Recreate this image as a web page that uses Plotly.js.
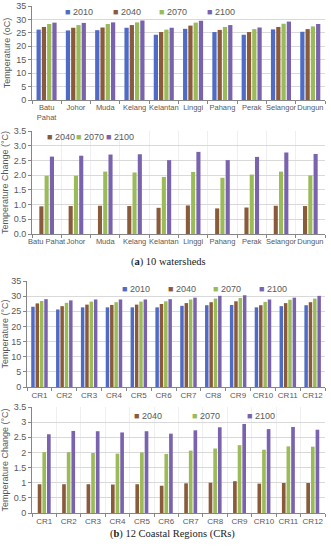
<!DOCTYPE html>
<html><head><meta charset="utf-8">
<script src="https://cdn.plot.ly/plotly-3.0.1.min.js"></script>
<style>html,body{margin:0;padding:0;background:#fff}#chart{width:331px;height:550px}</style>
</head><body><div id="chart"></div><script>
// ---- data ----
const watersheds = ["Batu Pahat","Johor","Muda","Kelang","Kelantan","Linggi","Pahang","Perak","Selangor","Dungun"];
const wsTemp2010 = [26.2,25.9,26.0,26.9,24.3,26.5,25.3,24.3,26.3,25.4];
const wsTemp2040 = [27.2,26.9,27.0,27.9,25.3,27.7,26.1,25.3,27.2,26.4];
const wsTemp2070 = [28.3,27.9,28.3,28.9,26.2,28.8,27.2,26.4,28.4,27.4];
const wsTemp2100 = [28.8,28.7,28.9,29.6,26.9,29.5,27.9,27.0,29.2,28.3];
const wsChg2040 = [0.94,0.95,0.96,0.95,0.89,0.97,0.87,0.90,0.96,0.95];
const wsChg2070 = [1.98,1.98,2.12,2.09,1.94,2.11,1.91,2.02,2.12,1.99];
const wsChg2100 = [2.63,2.66,2.70,2.71,2.51,2.79,2.51,2.62,2.77,2.72];
const coastal = ["CR1","CR2","CR3","CR4","CR5","CR6","CR7","CR8","CR9","CR10","CR11","CR12"];
const crTemp2010 = [26.5,25.6,26.3,26.3,26.3,26.3,26.8,27.0,27.1,26.3,26.7,27.0];
const crTemp2040 = [27.6,26.7,27.2,27.1,27.2,27.4,27.7,28.0,28.3,27.0,27.7,28.0];
const crTemp2070 = [28.4,27.8,28.2,28.0,28.2,28.3,28.9,29.2,29.4,28.1,28.8,29.2];
const crTemp2100 = [29.0,28.6,28.9,28.9,28.9,29.0,29.5,30.1,30.3,28.9,29.5,30.1];
const crChg2040 = [0.95,0.95,0.95,0.94,0.95,0.90,0.98,1.00,1.05,0.97,0.99,0.99];
const crChg2070 = [2.01,2.01,1.98,1.96,2.00,1.95,2.06,2.13,2.24,2.09,2.20,2.19];
const crChg2100 = [2.60,2.71,2.70,2.66,2.70,2.62,2.73,2.83,2.94,2.77,2.84,2.75];
const yearNames = ["2010","2040","2070","2100"];
const yearColors = ["#4F6BC6","#8A5B3B","#9BBB59","#7A63AE"];

// ---- build ----
const FONT = "Liberation Sans, Arial, sans-serif";
const GRAY = "#595959";
function bars(x, y, yi, xa, ya, width, offset) {
  return {type:"bar", x:x, y:y, name:yearNames[yi], xaxis:xa, yaxis:ya, showlegend:false,
    marker:{color:yearColors[yi], line:{width:0}}, width:width, offset:offset, hoverinfo:"x+y"};
}
const traces = [];
[wsTemp2010,wsTemp2040,wsTemp2070,wsTemp2100].forEach((s,i)=>traces.push(bars(watersheds,s,i,"x","y",0.145,-0.345+i*0.18)));
[wsChg2040,wsChg2070,wsChg2100].forEach((s,i)=>traces.push(bars(watersheds,s,i+1,"x2","y2",0.14,-0.25+i*0.18)));
[crTemp2010,crTemp2040,crTemp2070,crTemp2100].forEach((s,i)=>traces.push(bars(coastal,s,i,"x3","y3",0.14,-0.33+i*0.175)));
[crChg2040,crChg2070,crChg2100].forEach((s,i)=>traces.push(bars(coastal,s,i+1,"x4","y4",0.15,-0.265+i*0.19)));

const H = 550, W = 331;
const py = (top, bot) => [1 - bot/H, 1 - top/H];
const px = (l, r) => [l/W, r/W];
function xax(dom, anchor, fs, extra) {
  return Object.assign({domain:dom, anchor:anchor, type:"category", showline:true, linecolor:"#868686", linewidth:1,
    ticks:"outside", ticklen:3, tickcolor:"#868686", tickson:"boundaries", showgrid:false, tickangle:0,
    tickfont:{family:FONT, size:fs, color:GRAY}, fixedrange:true}, extra||{});
}
function yax(dom, anchor, range, dtick, fmt, title, extra) {
  return Object.assign({domain:dom, anchor:anchor, range:range, dtick:dtick, tickformat:fmt, showline:true, linecolor:"#868686",
    linewidth:1, ticks:"outside", ticklen:3, tickcolor:"#868686", showgrid:true, gridcolor:"#D9D9D9", gridwidth:1,
    zeroline:false, tickfont:{family:FONT, size:9, color:GRAY},
    title:{text:title, font:{family:FONT, size:9, color:GRAY}, standoff:4}, fixedrange:true}, extra||{});
}
// legend entries (as annotations: small square + year)
const legendSpec = [
  {ya:1-12/H,  years:[0,1,2,3], xs:[63,111,157,205]},
  {ya:1-137/H, years:[1,2,3],   xs:[45,74,104]},
  {ya:1-289/H, years:[0,1,2,3], xs:[120,166,211,257]},
  {ya:1-416/H, years:[1,2,3],   xs:[132,190,245]}
];
const annotations = [];
legendSpec.forEach(L => L.years.forEach((yi,k) => annotations.push({
  text:'<span style="color:'+yearColors[yi]+'">■</span> '+yearNames[yi], xref:"paper", yref:"paper",
  x:L.xs[k]/W, y:L.ya, xanchor:"left", yanchor:"middle", showarrow:false,
  font:{family:FONT, size:9, color:GRAY}
})));
annotations.push(
  {text:"(<b>a</b>) 10 watersheds", xref:"paper", yref:"paper", x:168/W, y:1-262/H, showarrow:false,
    font:{family:"Liberation Serif, Times New Roman, serif", size:10.5, color:"#222"}},
  {text:"(<b>b</b>) 12 Coastal Regions (CRs)", xref:"paper", yref:"paper", x:172/W, y:1-542/H, showarrow:false,
    font:{family:"Liberation Serif, Times New Roman, serif", size:10.5, color:"#222"}}
);
const layout = {
  width:W, height:H, margin:{l:0,r:0,t:0,b:0}, paper_bgcolor:"#fff", plot_bgcolor:"#fff",
  barmode:"overlay", showlegend:false, font:{family:FONT},
  xaxis: xax(px(32,325), "y", 7.5, {tickvals:watersheds, ticktext:watersheds.map(s=>s.replace(" ","<br>"))}),
  yaxis: yax(py(6,100), "x", [0,35], 5, "d", "Temperature (oC)"),
  xaxis2: xax(px(32,325), "y2", 7.5, {gridcolor:"#EFEFEF", showgrid:true}),
  yaxis2: yax(py(131,234), "x2", [0,3.5], 0.5, ".1f", "Temperature Change (°C)"),
  xaxis3: xax(px(27,325), "y3", 8),
  yaxis3: yax(py(281,387), "x3", [0,35], 5, "d", "Temperature (°C)"),
  xaxis4: xax(px(32,325), "y4", 8, {gridcolor:"#EFEFEF", showgrid:true}),
  yaxis4: yax(py(407,513), "x4", [0,3.5], 0.5, "", "Temperature Change (°C)"),
  annotations: annotations
};
Plotly.newPlot("chart", traces, layout, {staticPlot:true, displayModeBar:false});
</script></body></html>
